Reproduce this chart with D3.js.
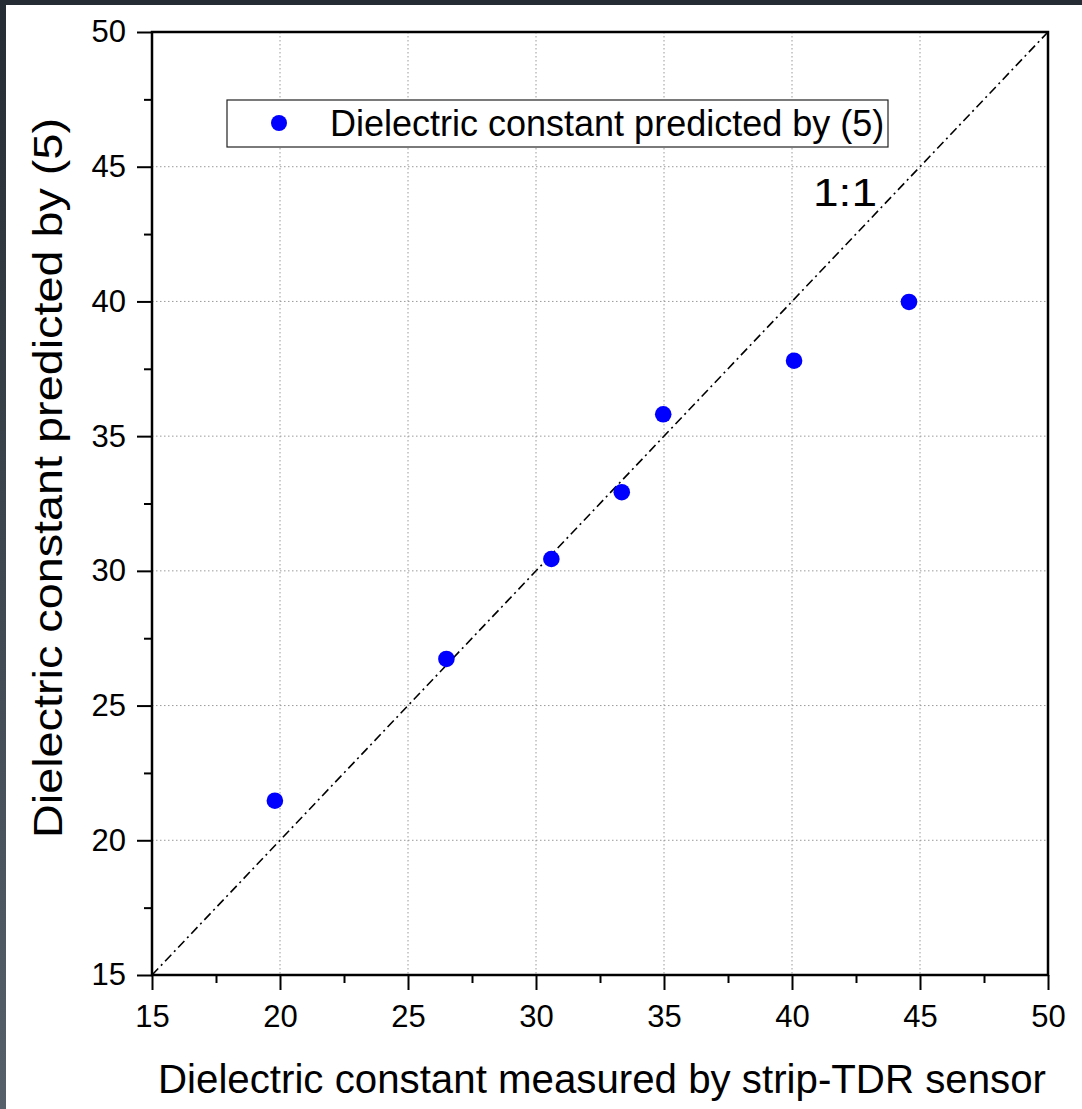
<!DOCTYPE html>
<html>
<head>
<meta charset="utf-8">
<script src="https://cdn.jsdelivr.net/npm/d3@7"></script>
<style>
  html, body { margin: 0; padding: 0; background: #fff; }
  svg { display: block; }
  text { font-family: "Liberation Sans", Arial, sans-serif; fill: #000; }
</style>
</head>
<body>
<script>
// ---- data ----
const measured = [19.8, 26.5, 30.6, 33.35, 34.97, 40.08, 44.57];
const predicted = [21.47, 26.73, 30.44, 32.92, 35.81, 37.8, 39.98];
const majorTicks = [15, 20, 25, 30, 35, 40, 45, 50];
const minorTicks = [17.5, 22.5, 27.5, 32.5, 37.5, 42.5, 47.5];
const oneToOne = [15, 50];
const xTitle = "Dielectric constant measured by strip-TDR sensor";
const yTitle = "Dielectric constant predicted by (5)";
const legendLabel = "Dielectric constant predicted by (5)";
const lineLabel = "1:1";

const W = 1082, H = 1109;
const L = 152, R = 1048, T = 32, B = 975;

const svg = d3.select("body").append("svg").attr("width", W).attr("height", H);

// dark window edges
svg.append("rect").attr("x", 0).attr("y", 0).attr("width", W).attr("height", 5).attr("fill", "#262c33");
const grad = svg.append("defs").append("linearGradient").attr("id", "lg").attr("x1", 0).attr("y1", 0).attr("x2", 0).attr("y2", 1);
grad.append("stop").attr("offset", "0").attr("stop-color", "#262c33");
grad.append("stop").attr("offset", "1").attr("stop-color", "#55606b");
svg.append("rect").attr("x", 0).attr("y", 0).attr("width", 6).attr("height", H).attr("fill", "url(#lg)");

const x = d3.scaleLinear().domain([15, 50]).range([L, R]);
const y = d3.scaleLinear().domain([15, 50]).range([B, T]);

// grid
const grid = svg.append("g");
majorTicks.filter(v => v > 15 && v < 50).forEach(v => {
  grid.append("line").attr("x1", x(v)).attr("x2", x(v)).attr("y1", T).attr("y2", B)
    .attr("stroke", "#9a9a9a").attr("stroke-width", 1).attr("stroke-dasharray", "1.5,2.5");
  grid.append("line").attr("x1", L).attr("x2", R).attr("y1", y(v)).attr("y2", y(v))
    .attr("stroke", "#9a9a9a").attr("stroke-width", 1).attr("stroke-dasharray", "1.5,2.5");
});

// 1:1 line
svg.append("line")
  .attr("x1", x(oneToOne[0])).attr("y1", y(oneToOne[0]))
  .attr("x2", x(oneToOne[1])).attr("y2", y(oneToOne[1]))
  .attr("stroke", "#000").attr("stroke-width", 1.6)
  .attr("stroke-dasharray", "9,4,2,4");

// axes
function styleAxis(g) {
  g.select(".domain").remove();
  g.selectAll(".tick line").attr("stroke", "#000").attr("stroke-width", 2);
  g.selectAll(".tick text").attr("font-size", 31).attr("font-family", "Liberation Sans, Arial, sans-serif");
}
svg.append("g").attr("transform", `translate(0,${B})`)
  .call(d3.axisBottom(x).tickValues(majorTicks).tickSize(15).tickPadding(15).tickFormat(d3.format("d")))
  .call(styleAxis);
svg.append("g").attr("transform", `translate(0,${B})`)
  .call(d3.axisBottom(x).tickValues(minorTicks).tickSize(8).tickFormat(""))
  .call(styleAxis);
svg.append("g").attr("transform", `translate(${L},0)`)
  .call(d3.axisLeft(y).tickValues(majorTicks).tickSize(15).tickPadding(11).tickFormat(d3.format("d")))
  .call(styleAxis);
svg.append("g").attr("transform", `translate(${L},0)`)
  .call(d3.axisLeft(y).tickValues(minorTicks).tickSize(8).tickFormat(""))
  .call(styleAxis);

// frame
svg.append("rect").attr("x", L).attr("y", T).attr("width", R - L).attr("height", B - T)
  .attr("fill", "none").attr("stroke", "#000").attr("stroke-width", 2.5);

// points
svg.append("g").selectAll("circle").data(measured).join("circle")
  .attr("cx", (d) => x(d)).attr("cy", (d, i) => y(predicted[i]))
  .attr("r", 8.3).attr("fill", "#0000ff");

// 1:1 label
svg.append("text").attr("x", 813).attr("y", 206)
  .attr("font-size", 39).attr("textLength", 64).attr("lengthAdjust", "spacingAndGlyphs").text(lineLabel);

// legend
const lg = svg.append("g");
lg.append("rect").attr("x", 227).attr("y", 100).attr("width", 661).attr("height", 47)
  .attr("fill", "#fff").attr("stroke", "#222").attr("stroke-width", 1.2);
lg.append("circle").attr("cx", 279).attr("cy", 123).attr("r", 8).attr("fill", "#0000ff");
lg.append("text").attr("x", 330).attr("y", 136).attr("font-size", 36).text(legendLabel);

// axis titles
svg.append("text").attr("x", 158).attr("y", 1093)
  .attr("font-size", 40).attr("textLength", 888).attr("lengthAdjust", "spacingAndGlyphs").text(xTitle);
svg.append("text").attr("transform", `translate(62,838) rotate(-90)`)
  .attr("font-size", 41).attr("textLength", 720).attr("lengthAdjust", "spacingAndGlyphs").text(yTitle);
</script>
</body>
</html>
